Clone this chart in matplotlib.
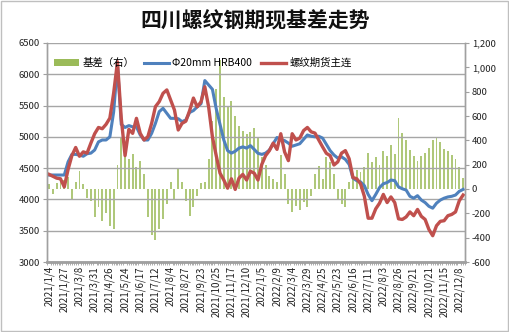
import matplotlib
matplotlib.use("Agg")
import matplotlib.pyplot as plt
from matplotlib.patches import Rectangle, Patch
from matplotlib.lines import Line2D
from matplotlib.ticker import FuncFormatter, MultipleLocator
import numpy as np

plt.rcParams['font.family'] = ['Noto Sans CJK SC', 'DejaVu Sans']

# Tick labels (every 4th observation)
date_labels = [
    "2021/1/4", "2021/1/27", "2021/3/8", "2021/3/31", "2021/4/26", "2021/5/24",
    "2021/6/17", "2021/7/12", "2021/8/4", "2021/8/27", "2021/9/23", "2021/10/25",
    "2021/11/17", "2021/12/10", "2022/1/5", "2022/2/9", "2022/3/4", "2022/3/29",
    "2022/4/25", "2022/5/23", "2022/6/16", "2022/7/11", "2022/8/3", "2022/8/26",
    "2022/9/21", "2022/10/21", "2022/11/15", "2022/12/8",
]

# Sichuan spot price, Φ20mm HRB400 (yuan/t)
spot = [
    4390, 4390, 4390, 4390, 4390, 4600, 4720, 4720, 4710, 4690,
    4730, 4740, 4790, 4920, 4950, 4950, 5000, 5400, 6150, 5200,
    5150, 5180, 5160, 5160, 5030, 4950, 4950, 5056, 5216, 5403,
    5456, 5376, 5296, 5296, 5290, 5243, 5270, 5390, 5420, 5480,
    5530, 5900, 5830, 5760, 5450, 5200, 4950, 4780, 4740, 4770,
    4820, 4840, 4820, 4860, 4800, 4737, 4720, 4740, 4790, 4890,
    4990, 4960, 4940, 4900, 4850, 4870, 4890, 4960, 5030, 5010,
    5000, 5010, 4980, 4880, 4780, 4710, 4660, 4680, 4640, 4560,
    4340, 4300, 4280, 4220, 4080, 3980, 4080, 4190, 4250, 4270,
    4310, 4300, 4200, 4170, 4150, 4050, 4020, 4060, 3990, 3950,
    3890, 3860, 3940, 3990, 4020, 4040, 4050, 4070, 4130, 4160,
]

# Rebar futures, main continuous contract (yuan/t)
futures = [
    4400, 4370, 4340, 4330, 4200, 4480, 4700, 4830, 4690, 4760,
    4740, 4900, 5050, 5150, 5130, 5200, 5300, 5700, 6200, 5300,
    4700, 5120, 5056, 5296, 5056, 4950, 5003, 5216, 5483, 5563,
    5696, 5750, 5589, 5430, 5110, 5216, 5250, 5420, 5620, 5480,
    5560, 5800, 5480, 5000, 4700, 4420, 4310, 4180, 4330, 4160,
    4340, 4400, 4310, 4450, 4420, 4310, 4560, 4700, 4780, 4900,
    4800, 5050, 4760, 4620, 5050, 4950, 4980, 5100, 5150, 5080,
    5060, 4950, 4840, 4737, 4700, 4550, 4600, 4740, 4780, 4650,
    4350, 4330, 4250, 4050, 3700, 3700, 3850, 3940, 4080, 3950,
    4040, 3950, 3690, 3680, 3720, 3800, 3740, 3840, 3730, 3680,
    3520, 3420, 3580, 3650, 3660, 3740, 3760, 3800, 3980, 4070,
]

# Basis (right axis, yuan/t)
basis = [
    40, -40, 50, 60, 70, 100, -80, 60, 150, 40,
    -70, -100, -230, -150, -260, -200, -300, -330, 200, 420,
    330, 250, 290, 180, 230, 120, -230, -380, -420, -330,
    -250, -120, 60, -80, 170, 60, -100, -220, -150, -60,
    50, 60, 250, 560, 820, 1060, 760, 680, 720, 600,
    520, 480, 450, 470, 500, 430, 260, 200, 110, 80,
    60, 280, 120, -120, -190, -140, -170, -110, -150, -60,
    120, 190, 80, 260, 220, 120, -80, -120, -150, 60,
    100, 160, 140, 180, 300, 220, 260, 200, 310, 270,
    360, 290, 580, 460, 400, 320, 270, 230, 270, 300,
    340, 400, 420, 390, 330, 310, 280, 250, 180, 90,
]

W, H = 510, 332
fig = plt.figure(figsize=(W / 100, H / 100), dpi=100)
fig.patch.set_facecolor("white")
fig.patches.append(Rectangle((0.002, 0.003), 0.995, 0.994, transform=fig.transFigure,
                             fill=False, edgecolor="#BFBFBF", linewidth=1.0))

left, right, top, bottom = 47 / W, 465 / W, 43 / H, 262 / H
ax = fig.add_axes([left, 1 - bottom, right - left, bottom - top])
ax2 = ax.twinx()

x = np.arange(len(spot))

# basis bars on the secondary axis, drawn underneath the price lines
ax2.bar(x, basis, width=0.5, color="#9BBB59", alpha=0.8, linewidth=0)
ax2.set_ylim(-600, 1200)
ax2.yaxis.set_major_locator(MultipleLocator(200))
ax2.yaxis.set_major_formatter(FuncFormatter(lambda v, p: f"{int(v):,}"))

ax.set_zorder(ax2.get_zorder() + 1)
ax.patch.set_visible(False)

ax.plot(x, spot, color="#4F81BD", linewidth=2.2, solid_joinstyle="round")
ax.plot(x, futures, color="#C0504D", linewidth=2.4, solid_joinstyle="round")

ax.set_ylim(3000, 6500)
ax.yaxis.set_major_locator(MultipleLocator(500))
ax.set_xlim(-0.55, len(spot) - 0.75)

ax.grid(axis="y", color="#A6A6A6", linewidth=1.0)
ax.set_axisbelow(True)

tick_pos = x[::4][:len(date_labels)]
ax.set_xticks(tick_pos)
ax.set_xticklabels(date_labels, rotation=90, fontsize=7, color="#222222")
ax.set_xticks(np.arange(-0.5, len(spot), 0.5), minor=True)
ax.tick_params(axis="x", which="major", length=0, pad=3)
ax.tick_params(axis="x", which="minor", length=2.5, color="#A0A0A0", width=0.6)

ax.tick_params(axis="y", labelsize=6.8, length=3, color="#A0A0A0", pad=2, labelcolor="#222222")
ax2.tick_params(axis="y", labelsize=6.8, length=3, color="#A0A0A0", pad=2, labelcolor="#222222")

for a in (ax, ax2):
    a.spines["top"].set_visible(False)
    for side in ("left", "right", "bottom"):
        a.spines[side].set_color("#A0A0A0")
        a.spines[side].set_linewidth(1.0)
ax.spines["bottom"].set_linewidth(2.0)

fig.text(0.5, 1 - 20 / H, "四川螺纹钢期现基差走势", ha="center", va="center",
         fontsize=15, fontweight="bold", color="#111111")

handles = [
    Patch(facecolor="#9BBB59", edgecolor="none"),
    Line2D([], [], color="#4F81BD", linewidth=2.2),
    Line2D([], [], color="#C0504D", linewidth=2.4),
]
labels = ["基差（右）", "Φ20mm HRB400", "螺纹期货主连"]
ax.legend(handles, labels, loc="upper left", bbox_to_anchor=(0.0, 0.965), ncol=3,
          frameon=False, fontsize=7.5, handlelength=2.4, handleheight=0.7,
          columnspacing=0.9, handletextpad=0.3, borderaxespad=0.3)

fig.savefig("out.png", dpi=100, facecolor="white")
